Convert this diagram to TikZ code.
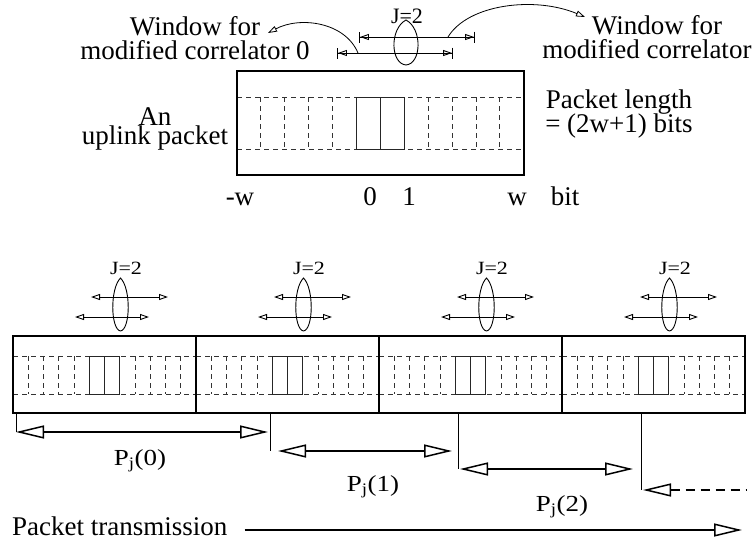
\documentclass[tikz,border=0pt]{standalone}
\usepackage{fontspec}
\setmainfont{Liberation Serif}
\usetikzlibrary{arrows.meta,calc}
\tikzset{
  pktbox/.style={draw=black, line width=2.4pt},
  bitdash/.style={black!80, line width=0.9pt, dash pattern=on 5pt off 4pt},
  bitbox/.style={black!85, line width=0.9pt},
  lensline/.style={black, line width=0.9pt},
  win/.style={line width=0.9pt, arrows={Bar[width=11pt]Triangle[open,length=9pt,width=6pt]}-{Triangle[open,length=9pt,width=6pt]Bar[width=11pt]}},
  winb/.style={line width=0.9pt, arrows={Triangle[open,length=9pt,width=6pt]}-{Triangle[open,length=9pt,width=6pt]}},
  curvarr/.style={line width=0.8pt, arrows=-{Triangle[open,length=9pt,width=6pt]}},
  parr/.style={line width=1.5pt, arrows={Triangle[open,length=28pt,width=13pt]}-{Triangle[open,length=28pt,width=13pt]}},
  drop/.style={line width=0.9pt},
  lbl/.style={font=\fontsize{27}{24}\selectfont, inner sep=0pt, align=center},
  jlbl/.style={font=\fontsize{22}{22}\selectfont, inner sep=0pt},
}
\newcommand{\lensat}[4]{\draw[lensline] (#1,#2) .. controls (#1+0.667*#3,#2+0.2*#4) and (#1+0.62*#3,#2+0.97*#4) .. (#1,#2+#4) .. controls (#1-0.62*#3,#2+0.97*#4) and (#1-0.667*#3,#2+0.2*#4) .. cycle;}

\begin{document}
\begin{tikzpicture}[x=1pt,y=-1pt]
  \useasboundingbox (0,0) rectangle (756,544);
  % one packet, 2w+1 bits
  \draw[bitdash] (237,97) -- (524,97) (237,149) -- (524,149);
  \foreach \k in {1,2,3,4,8,9,10,11} {\draw[bitdash] (237+23.9*\k,97) -- (237+23.9*\k,149);}
  \draw[bitbox] (356.5,97) rectangle (404.3,149) (380.4,97) -- (380.4,149);
  \draw[pktbox] (237,71) rectangle (524,175);
  \node[lbl] (uplink) at (155,129) {An\\[-5.5pt]uplink packet};
  \node[lbl] (plen) at (619,114) {Packet length\\[-1pt]= (2w+1) bits};
  \node[lbl, anchor=base] (mw) at (240,205) {-w};
  \node[lbl, anchor=base] (b0) at (370,205) {0};
  \node[lbl, anchor=base] (b1) at (409,205) {1};
  \node[lbl, anchor=base] (bw) at (517,205) {w};
  \node[lbl, anchor=base] (bit) at (565,205) {bit};
  % windows of the modified correlators
  \coordinate (wu0) at (359,37); \coordinate (wu1) at (475,37);
  \coordinate (wl0) at (337,53); \coordinate (wl1) at (453,53);
  \draw[win] (wu0) -- (wu1);
  \draw[win] (wl0) -- (wl1);
  \lensat{406}{20}{25}{45}
  \node[jlbl, anchor=base] (jtop) at (407,23) {J=2};
  \node[lbl] (win0) at (195,38) {Window for\\modified correlator 0};
  \node[lbl] (win1) at (657,37) {Window for\\modified correlator 1};
  \coordinate (c0s) at (358,53); \coordinate (c0e) at (268,33);
  \draw[curvarr] (c0s) .. controls (345,22) and (300,16) .. (c0e);
  \coordinate (c1s) at (448,37); \coordinate (c1e) at (585,17);
  \draw[curvarr] (c1s) .. controls (468,4) and (535,-4) .. (c1e);
  % packet stream
  \foreach \p in {0,1,2,3} {
    \pgfmathsetmacro\xo{13+183*\p}
    \draw[bitdash] (\xo,356) -- ++(183,0) (\xo,394) -- ++(183,0);
    \foreach \k in {1,2,3,4,8,9,10,11} {\draw[bitdash] (\xo+15.25*\k,356) -- (\xo+15.25*\k,394);}
    \draw[bitbox] (\xo+76.25,356) rectangle (\xo+106.75,394) (\xo+91.5,356) -- (\xo+91.5,394);
    \draw[pktbox] (\xo,336) rectangle ++(183,77);
    \lensat{\xo+107.5}{278}{16}{53}
    \draw[winb] (\xo+78,297) -- (\xo+155,297);
    \draw[winb] (\xo+62,317) -- (\xo+136,317);
    \node[jlbl, anchor=base] (j\p) at (\xo+113,274) {\scalebox{1}[0.85]{J=2}};
  }
  \coordinate (t0) at (16,413); \coordinate (t1) at (270,413);
  \coordinate (t2) at (458,413); \coordinate (t3) at (641,413);
  \coordinate (a0) at (16,432); \coordinate (b0) at (268,432);
  \coordinate (a1) at (278,451); \coordinate (b1) at (452,451);
  \coordinate (a2) at (460,469); \coordinate (b2) at (633,469);
  \coordinate (a3) at (643,490); \coordinate (b3) at (747,490);
  \draw[drop] (t0) -- (t0 |- a0);
  \draw[drop] (t1) -- (t1 |- a1);
  \draw[drop] (t2) -- (t2 |- a2);
  \draw[drop] (t3) -- (t3 |- a3);
  \draw[parr] (a0) -- (b0);
  \draw[parr] (a1) -- (b1);
  \draw[parr] (a2) -- (b2);
  \draw[line width=1.5pt, arrows={Triangle[open,length=28pt,width=13pt]}-, dash pattern=on 9pt off 6pt] (a3) -- (b3);
  \node[lbl, anchor=base] (pj0) at (140,465) {\scalebox{1}[0.85]{P\textsubscript{j}(0)}};
  \node[lbl, anchor=base] (pj1) at (373,491) {\scalebox{1}[0.85]{P\textsubscript{j}(1)}};
  \node[lbl, anchor=base] (pj2) at (562,511) {\scalebox{1}[0.85]{P\textsubscript{j}(2)}};
  \node[lbl, anchor=west] (ptx) at (12,526) {Packet transmission};
  \coordinate (ptend) at (742,530);
  \draw[line width=1.5pt, arrows=-{Triangle[open,length=28pt,width=13pt]}] ($(ptx.east |- ptend)+(17,0)$) -- (ptend);
\end{tikzpicture}
\end{document}
